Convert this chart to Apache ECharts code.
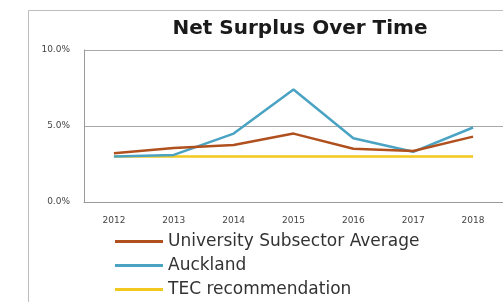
<!DOCTYPE html>
<html>
<head>
<meta charset="utf-8">
<style>
  html, body { margin: 0; padding: 0; background: #fff; }
  #myChart { width: 503px; height: 302px; }
</style>
<script src="https://cdn.jsdelivr.net/npm/echarts@6/dist/echarts.min.js"></script>
</head>
<body>
<div id="myChart"></div>
<script>
// chart data
var years = ['2012', '2013', '2014', '2015', '2016', '2017', '2018']
var universityAvg = [3.2, 3.55, 3.75, 4.5, 3.5, 3.35, 4.3]
var auckland = [3.0, 3.1, 4.5, 7.4, 4.2, 3.3, 4.9]
var tecRecommendation = [3.0, 3.0, 3.0, 3.0, 3.0, 3.0, 3.0]
var yTicks = [0, 5, 10]

var chart = echarts.init(document.getElementById('myChart'))

function lineSeries(name, data, color) {
  return {
    name: name,
    type: 'line',
    data: data,
    symbol: 'none',
    color: color,
    lineStyle: { color: color, width: 2.5 },
    animation: false
  }
}

chart.setOption({
  textStyle: { fontFamily: 'DejaVu Sans, sans-serif' },
  title: {
    text: 'Net Surplus Over Time',
    left: 295,
    top: 14,
    textAlign: 'center',
    textStyle: { fontSize: 20, fontWeight: 'bold', color: '#1a1a1a' }
  },
  graphic: [{
    type: 'rect',
    silent: true,
    shape: { x: 28.5, y: 10.5, width: 520, height: 320 },
    style: { fill: 'none', stroke: '#bdbdbd', lineWidth: 1 }
  }],
  grid: {
    left: 84,
    right: -18,
    top: 50,
    bottom: 100
  },
  xAxis: {
    type: 'category',
    data: years,
    boundaryGap: true,
    axisLine: { lineStyle: { color: '#9a9a9a' } },
    axisTick: { show: false },
    axisLabel: { color: '#444', fontSize: 9, margin: 14 }
  },
  yAxis: {
    type: 'value',
    min: yTicks[0],
    max: yTicks[yTicks.length - 1],
    interval: 5,
    axisLine: { show: true, lineStyle: { color: '#9a9a9a' } },
    axisTick: { show: false },
    splitLine: { lineStyle: { color: '#a8a8a8' } },
    axisLabel: {
      color: '#444',
      fontSize: 9,
      margin: 14,
      formatter: function (v) { return v.toFixed(1) + '%' }
    }
  },
  legend: {
    orient: 'vertical',
    left: 110,
    top: 228,
    height: 100,
    icon: 'rect',
    itemWidth: 48,
    itemHeight: 3,
    itemGap: 7,
    textStyle: { fontSize: 17, color: '#333' },
    data: ['University Subsector Average', 'Auckland', 'TEC recommendation']
  },
  series: [
    lineSeries('TEC recommendation', tecRecommendation, '#f2c81e'),
    lineSeries('Auckland', auckland, '#4ba3c4'),
    lineSeries('University Subsector Average', universityAvg, '#b0501e')
  ]
})
</script>
</body>
</html>
